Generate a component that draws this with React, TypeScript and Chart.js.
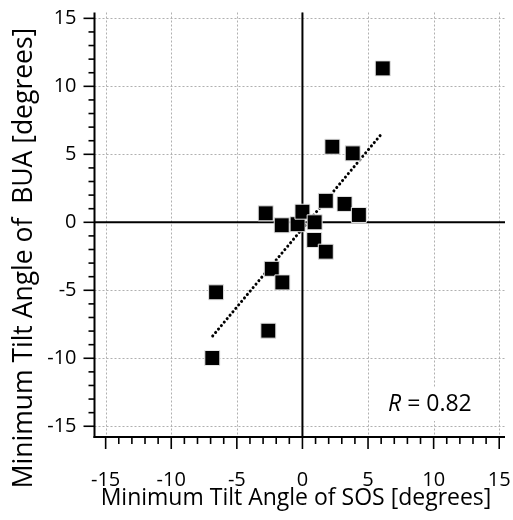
import React, { useEffect, useRef } from "react";
import { Chart, registerables } from "chart.js";

Chart.register(...registerables);

// ---- data ----
const sosValues = [-0.37, 6.12, 2.28, 3.83, -2.8, -1.58, 0.0, 0.93, 1.78, 3.21, 4.3, 0.9, 1.78, -2.34, -1.53, -6.58, -2.6, -6.87];
const buaValues = [-0.14, 11.32, 5.56, 5.07, 0.66, -0.22, 0.78, 0.0, 1.58, 1.35, 0.54, -1.3, -2.16, -3.42, -4.42, -5.15, -7.97, -9.98];
const trendX = [-6.84, 5.94];
const trendY = [-8.36, 6.4];
const majorTicks = [-15, -10, -5, 0, 5, 10, 15];
const minorTickStep = 1;
const xRange = [-15.85, 15.44];
const yRange = [-15.79, 15.43];
const xTitle = "Minimum Tilt Angle of SOS [degrees]";
const yTitle = "Minimum Tilt Angle of  BUA [degrees]";
const rName = "R";
const rValue = " = 0.82";

const FONT = '"Open Sans", "DejaVu Sans", sans-serif';

const decorPlugin = {
  id: "decor",
  beforeDatasetsDraw(chart: any) {
    const { ctx, chartArea: a, scales } = chart;
    const x = scales.x;
    const y = scales.y;
    const ln = (x1: number, y1: number, x2: number, y2: number) => {
      ctx.beginPath();
      ctx.moveTo(x1, y1);
      ctx.lineTo(x2, y2);
      ctx.stroke();
    };
    ctx.save();
    // dotted grid
    ctx.strokeStyle = "#b0b0b0";
    ctx.lineWidth = 1;
    ctx.setLineDash([2, 2]);
    for (const v of majorTicks) {
      const px = Math.round(x.getPixelForValue(v)) + 0.5;
      ln(px, a.top, px, a.bottom);
      const py = Math.round(y.getPixelForValue(v)) + 0.5;
      ln(a.left, py, a.right, py);
    }
    ctx.setLineDash([]);
    // tick marks
    ctx.strokeStyle = "#000";
    ctx.lineWidth = 1.6;
    for (let v = majorTicks[0]; v <= majorTicks[majorTicks.length - 1] + 1e-9; v += minorTickStep) {
      const major = Math.abs(v % 5) < 1e-9;
      const px = x.getPixelForValue(v);
      ln(px, a.bottom, px, a.bottom + (major ? 12 : 7));
      const py = y.getPixelForValue(v);
      ln(a.left, py, a.left - (major ? 11 : 6), py);
    }
    // axes
    ctx.lineWidth = 2;
    ln(a.left, a.top, a.left, a.bottom + 1);
    ln(a.left - 1, a.bottom, a.right, a.bottom);
    // zero lines
    const zx = x.getPixelForValue(0);
    const zy = y.getPixelForValue(0);
    ln(zx, a.top, zx, a.bottom);
    ln(a.left, zy, a.right, zy);
    ctx.restore();
  },
  afterDatasetsDraw(chart: any) {
    const { ctx } = chart;
    ctx.save();
    // R annotation
    ctx.font = `italic 23px ${FONT}`;
    const w1 = ctx.measureText(rName).width;
    ctx.font = `23px ${FONT}`;
    const w2 = ctx.measureText(rValue).width;
    const tx = 388;
    const ty = 404;
    ctx.fillStyle = "#fff";
    ctx.fillRect(tx - 6, ty - 17, w1 + w2 + 12, 34);
    ctx.fillStyle = "#000";
    ctx.textBaseline = "middle";
    ctx.textAlign = "left";
    ctx.font = `italic 23px ${FONT}`;
    ctx.fillText(rName, tx, ty);
    ctx.font = `23px ${FONT}`;
    ctx.fillText(rValue, tx + w1, ty);
    // axis titles
    ctx.textAlign = "center";
    ctx.font = `23px ${FONT}`;
    ctx.fillText(xTitle, 296, 498);
    ctx.translate(24.5, 258);
    ctx.rotate(-Math.PI / 2);
    ctx.font = `26.5px ${FONT}`;
    ctx.fillText(yTitle, 0, 0);
    ctx.restore();
  },
};

const zeroPad = (s: any) => {
  s.paddingLeft = 0;
  s.paddingRight = 0;
  s.paddingTop = 0;
  s.paddingBottom = 0;
};

export default function App() {
  const ref = useRef<HTMLCanvasElement | null>(null);
  useEffect(() => {
    if (!ref.current) return;
    const points = sosValues.map((v, i) => ({ x: v, y: buaValues[i] }));
    const trend = trendX.map((v, i) => ({ x: v, y: trendY[i] }));
    const tickFont = { family: FONT, size: 20 };
    const chart = new Chart(ref.current, {
      type: "scatter",
      data: {
        datasets: [
          {
            type: "line",
            data: trend,
            borderColor: "#000",
            borderWidth: 3,
            borderDash: [0.1, 4.4],
            borderCapStyle: "round",
            pointRadius: 0,
            fill: false,
            order: 2,
          } as any,
          {
            data: points,
            pointStyle: "rect",
            pointRadius: 10.6,
            backgroundColor: "#000",
            borderColor: "#e6e6e6",
            borderWidth: 1,
            order: 1,
          },
        ],
      },
      options: {
        responsive: false,
        animation: false,
        layout: { autoPadding: false, padding: { left: 0, top: 12.5, right: 8, bottom: 0 } },
        plugins: { legend: { display: false }, tooltip: { enabled: false } },
        scales: {
          x: {
            type: "linear",
            min: xRange[0],
            max: xRange[1],
            grid: { display: false, drawTicks: false },
            border: { display: false },
            ticks: {
              stepSize: 5,
              includeBounds: false,
              color: "#000",
              font: tickFont,
              padding: 31,
              maxRotation: 0,
            },
            afterFit: (s: any) => {
              s.height = 83;
              zeroPad(s);
            },
          },
          y: {
            type: "linear",
            min: yRange[0],
            max: yRange[1],
            grid: { display: false, drawTicks: false },
            border: { display: false },
            ticks: {
              stepSize: 5,
              includeBounds: false,
              color: "#000",
              font: tickFont,
              padding: 18,
            },
            afterFit: (s: any) => {
              s.width = 94.5;
              zeroPad(s);
            },
          },
        },
      },
      plugins: [decorPlugin],
    });
    return () => chart.destroy();
  }, []);
  return (
    <div style={{ position: "absolute", left: 0, top: 0, width: 513, height: 520, background: "#fff" }}>
      <canvas ref={ref} width={513} height={520} style={{ width: 513, height: 520 }} />
    </div>
  );
}
